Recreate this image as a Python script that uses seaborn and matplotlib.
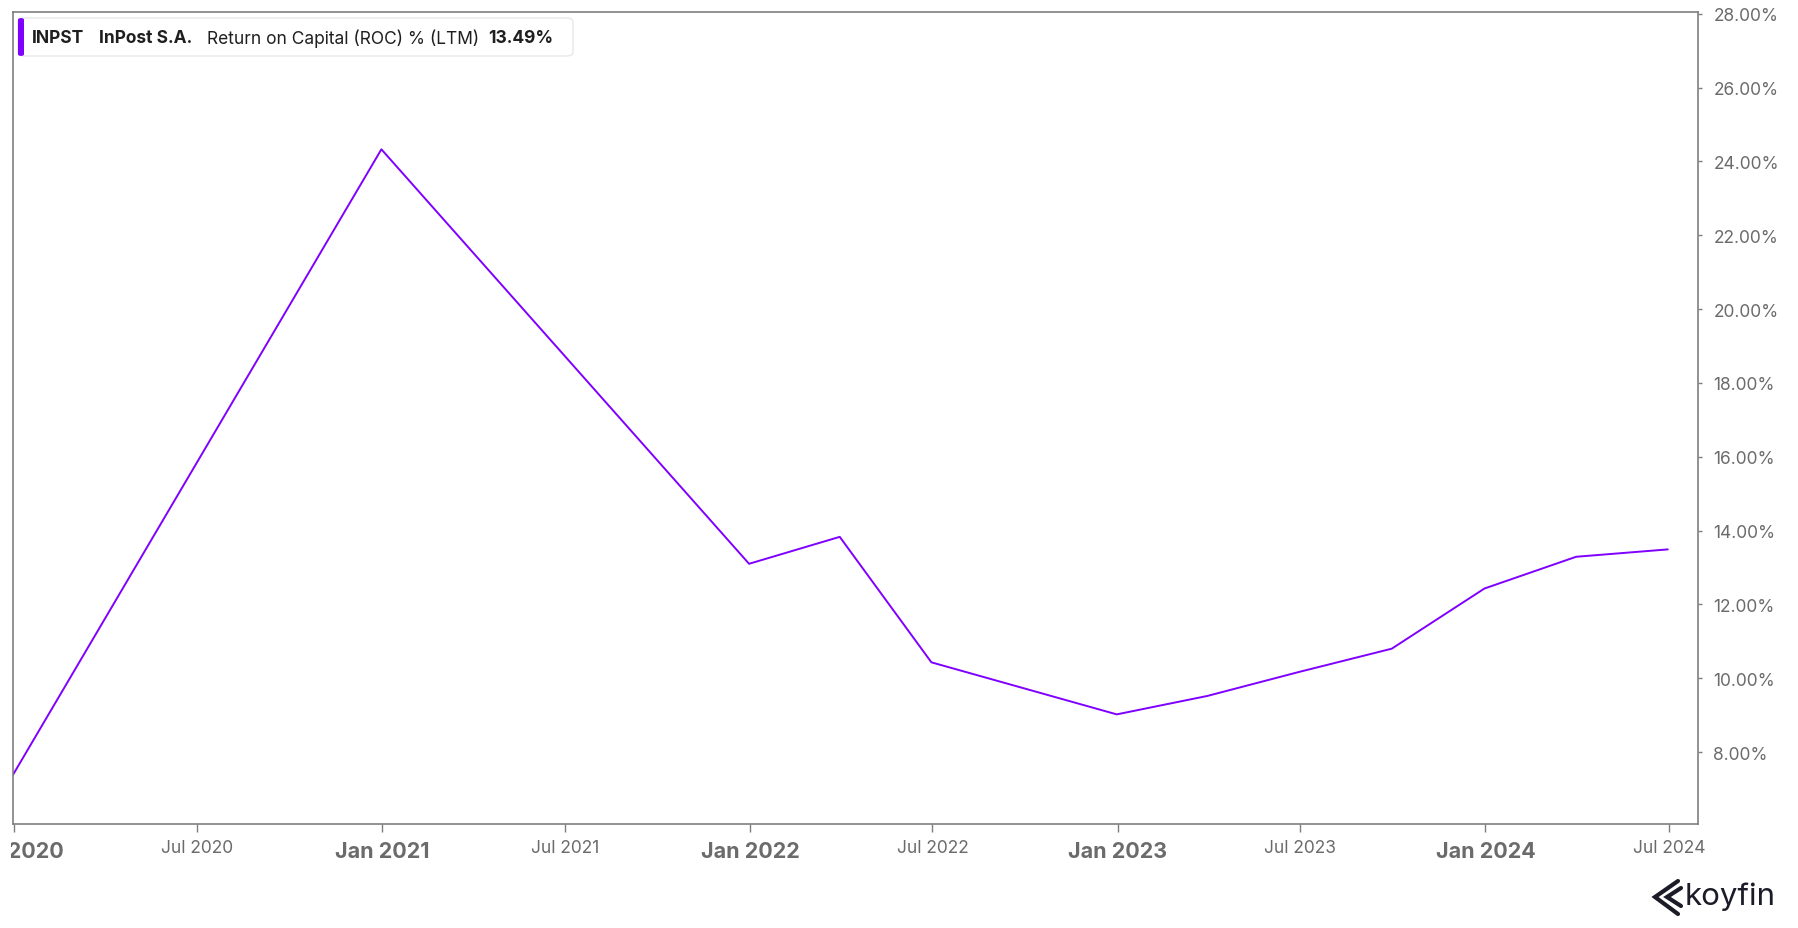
import matplotlib
matplotlib.use("Agg")
import matplotlib.pyplot as plt
import matplotlib.dates as mdates
from matplotlib.patches import FancyBboxPatch, Rectangle
from matplotlib.lines import Line2D
from matplotlib.ticker import FuncFormatter
import seaborn as sns
import pandas as pd

# quarter-end dates and ROC values (%)
dates = ["2019-12-31", "2020-12-31", "2021-12-31", "2022-03-31", "2022-06-30",
         "2022-12-31", "2023-03-31", "2023-06-30", "2023-09-30", "2023-12-31",
         "2024-03-31", "2024-06-30"]
roc = [7.37, 24.33, 13.10, 13.83, 10.43, 9.02, 9.52, 10.17, 10.80, 12.43, 13.29, 13.49]
y_ticks = [8, 10, 12, 14, 16, 18, 20, 22, 24, 26, 28]

ticker = "INPST"
company = "InPost S.A."
metric = "Return on Capital (ROC) % (LTM)"
last_value = "13.49%"

df = pd.DataFrame({"date": pd.to_datetime(dates), "roc": roc})

W, H = 1799, 929
PURPLE = "#7f00ff"
AXIS = "#7f7f7f"
LABEL = "#6b6b6b"

sns.set_style("white")
plt.rcParams["font.family"] = ["Inter", "DejaVu Sans"]


def px(x, y):
    return x / W, 1 - y / H


fig = plt.figure(figsize=(W / 100, H / 100), dpi=100)
left, top, right, bottom = 12.7, 13, 1698, 825
ax = fig.add_axes([left / W, 1 - bottom / H, (right - left) / W, (bottom - top) / H])

sns.lineplot(data=df, x="date", y="roc", ax=ax, color=PURPLE, linewidth=1.4)

ax.set_xlim(pd.Timestamp("2019-12-31"), pd.Timestamp("2024-07-30"))
ax.set_ylim(6.05, 28.05)
ax.set_xlabel("")
ax.set_ylabel("")

# y axis on the right
ax.yaxis.tick_right()
ax.set_yticks(y_ticks)
ax.yaxis.set_major_formatter(FuncFormatter(lambda v, p: f"{v:.2f}%"))
ax.tick_params(axis="y", which="both", right=True, left=False, length=3, width=1,
               color=AXIS, pad=8, labelsize=12.5, labelcolor=LABEL)

# x axis: Jan ticks bold, Jul ticks regular
ax.xaxis.set_major_locator(mdates.MonthLocator(bymonth=1))
ax.xaxis.set_major_formatter(mdates.DateFormatter("%b %Y"))
ax.xaxis.set_minor_locator(mdates.MonthLocator(bymonth=7))
ax.xaxis.set_minor_formatter(mdates.DateFormatter("%b %Y"))
ax.tick_params(axis="x", which="major", bottom=True, length=6, width=1, color=AXIS,
               pad=6, labelsize=15.5, labelcolor=LABEL)
ax.tick_params(axis="x", which="minor", bottom=True, length=6, width=1, color=AXIS,
               pad=5, labelsize=12.5, labelcolor=LABEL)
for lab in ax.get_xticklabels(which="major"):
    lab.set_fontweight("bold")

for s in ax.spines.values():
    s.set_visible(True)
    s.set_color(AXIS)
    s.set_linewidth(1.2)

# the chart crops labels left of the plot edge (first "Jan 2020" shows only "2020")
cx, cy = px(0, 870)
fig.add_artist(Rectangle((cx, cy), 11.5 / W, 38 / H, transform=fig.transFigure,
                         facecolor="white", edgecolor="none", zorder=10))

# legend box
x0, y0 = px(18, 57)
x1, y1 = px(573, 19)
fig.add_artist(FancyBboxPatch((x0, y0), x1 - x0, y1 - y0, transform=fig.transFigure,
                              boxstyle="round,pad=0,rounding_size=0.004",
                              facecolor="white", edgecolor="#e8e8e8", linewidth=1))
bx0, by0 = px(18, 57)
bx1, by1 = px(24, 19)
fig.add_artist(FancyBboxPatch((bx0, by0), bx1 - bx0, by1 - by0, transform=fig.transFigure,
                              boxstyle="round,pad=0,rounding_size=0.002",
                              facecolor=PURPLE, edgecolor="none"))
ty = px(0, 38.5)[1]
fig.text(32 / W, ty, ticker, fontsize=12.5, fontweight="bold", color="#1f1f1f", va="center")
fig.text(99 / W, ty, company, fontsize=12.5, fontweight="bold", color="#1f1f1f", va="center")
fig.text(207 / W, ty, metric, fontsize=12.5, color="#1f1f1f", va="center")
fig.text(488 / W, ty, last_value, fontsize=12.5, fontweight="bold", color="#1f1f1f", va="center")

# koyfin logo
for pts in ([(1678, 882), (1655, 898), (1678, 915)], [(1681, 889), (1667, 898), (1681, 907)]):
    xs = [px(a, b)[0] for a, b in pts]
    ys = [px(a, b)[1] for a, b in pts]
    fig.add_artist(Line2D(xs, ys, transform=fig.transFigure, color="#1c1c28",
                          linewidth=3, solid_joinstyle="miter"))
fig.text(*px(1685, 897), "koyfin", fontsize=22.5, color="#1c1c28", va="center", ha="left")

fig.savefig("out.png", dpi=100, facecolor="white")
